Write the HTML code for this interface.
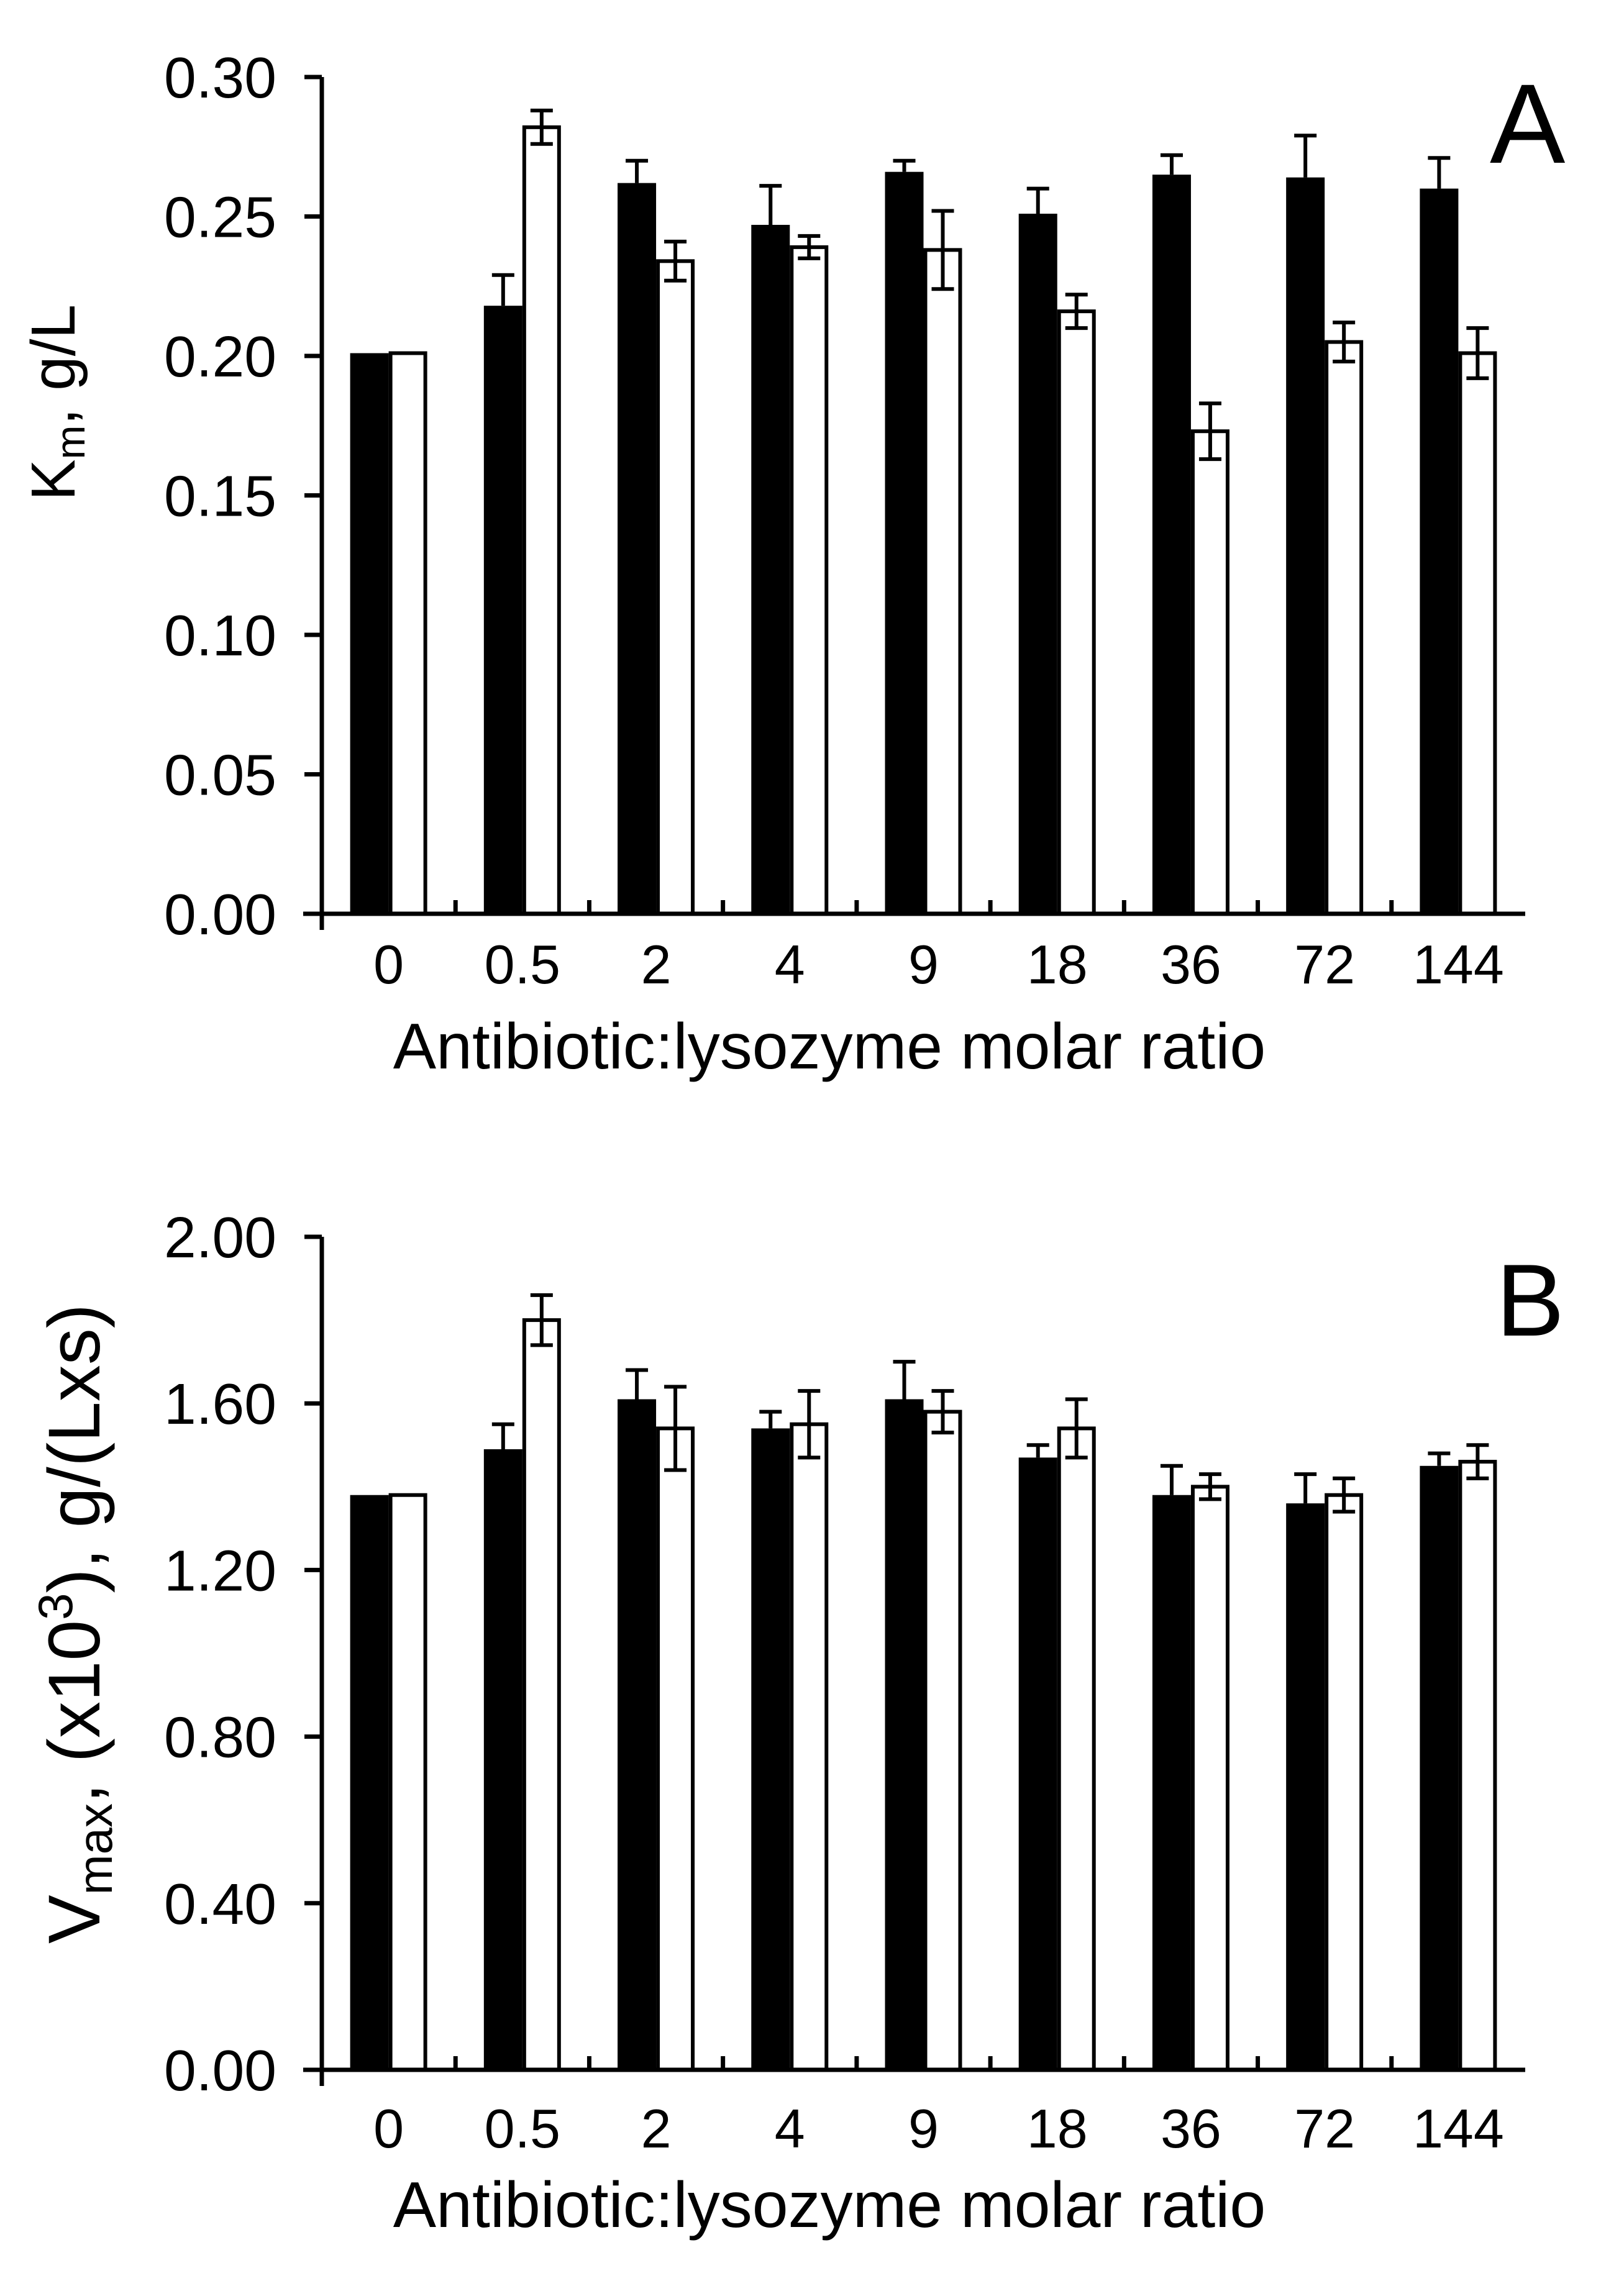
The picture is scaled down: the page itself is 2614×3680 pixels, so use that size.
<!DOCTYPE html>
<html><head><meta charset="utf-8">
<style>
html,body{margin:0;padding:0;background:#fff;}
svg{display:block;}
text{font-family:"Liberation Sans",Arial,sans-serif;fill:#000;}
</style></head>
<body>
<svg id="chart" width="2614" height="3680" viewBox="0 0 2614 3680" xmlns="http://www.w3.org/2000/svg">
<g id="pa"></g>
<g id="pb"></g>
<text x="2398" y="262" font-size="182">A</text>
<text x="2408" y="2150" font-size="165">B</text>
<text transform="translate(120,648) rotate(-90)" text-anchor="middle" font-size="100">K<tspan font-size="66" dy="16">m</tspan><tspan dy="-16">, g/L</tspan></text>
<text transform="translate(160,2614) rotate(-90)" text-anchor="middle" font-size="118">V<tspan font-size="78" dy="20">max</tspan><tspan dy="-20">, (x10</tspan><tspan font-size="78" dy="-44">3</tspan><tspan dy="44">), g/(Lxs)</tspan></text>
<text x="1335" y="1720" text-anchor="middle" font-size="104">Antibiotic:lysozyme molar ratio</text>
<text x="1335" y="3585" text-anchor="middle" font-size="104">Antibiotic:lysozyme molar ratio</text>
</svg>
<script>
const categories = ["0","0.5","2","4","9","18","36","72","144"];
const kmBlack = [0.201,0.218,0.262,0.247,0.266,0.251,0.265,0.264,0.260];
const kmBlackErr = [0,0.011,0.008,0.014,0.004,0.009,0.007,0.015,0.011];
const kmWhite = [0.201,0.282,0.234,0.239,0.238,0.216,0.173,0.205,0.201];
const kmWhiteErr = [0,0.006,0.007,0.004,0.014,0.006,0.010,0.007,0.009];
const kmTicks = ["0.00","0.05","0.10","0.15","0.20","0.25","0.30"];
const vBlack = [1.38,1.49,1.61,1.54,1.61,1.47,1.38,1.36,1.45];
const vBlackErr = [0,0.06,0.07,0.04,0.09,0.03,0.07,0.07,0.03];
const vWhite = [1.38,1.80,1.54,1.55,1.58,1.54,1.40,1.38,1.46];
const vWhiteErr = [0,0.06,0.10,0.08,0.05,0.07,0.03,0.04,0.04];
const vTicks = ["0.00","0.40","0.80","1.20","1.60","2.00"];

const NS="http://www.w3.org/2000/svg";
function mk(parent,tag,attrs){const e=document.createElementNS(NS,tag);for(const k in attrs)e.setAttribute(k,attrs[k]);parent.appendChild(e);return e;}

function panel(g,cfg){
  const x0=518, x1=2455, y0=cfg.y0, y1=cfg.y1, max=cfg.max;
  const n=categories.length, gw=(x1-x0)/n, bw=62;
  const ys=v=>y0-(v/max)*(y0-y1);
  const xc=i=>x0+gw*(i+0.5);
  categories.forEach((c,i)=>{
    const b=mk(g,'rect',{x:xc(i)-bw,y:ys(cfg.black[i]),width:bw,height:y0-ys(cfg.black[i]),fill:'#000'});
    
    
    const w=mk(g,'rect',{x:xc(i)+3,y:ys(cfg.white[i]),width:bw-6,height:y0-ys(cfg.white[i]),fill:'#fff',stroke:'#000','stroke-width':6});
    
    
    if(cfg.bErr[i]>0){
      const cx=xc(i)-bw/2, t=ys(cfg.black[i]+cfg.bErr[i]);
      const e=mk(g,'path',{d:`M${cx},${ys(cfg.black[i])}V${t}M${cx-18},${t}H${cx+18}`,stroke:'#000','stroke-width':6,fill:'none'});
      
      
    }
    if(cfg.wErr[i]>0){
      const cx=xc(i)+bw/2, t=ys(cfg.white[i]+cfg.wErr[i]), bt=ys(cfg.white[i]-cfg.wErr[i]);
      const e=mk(g,'path',{d:`M${cx},${bt}V${t}M${cx-18},${t}H${cx+18}M${cx-18},${bt}H${cx+18}`,stroke:'#000','stroke-width':6,fill:'none'});
      
      
    }
    const l=mk(g,'text',{x:xc(i),y:y0+cfg.lab,'text-anchor':'middle','font-size':88});
    l.textContent=c;
    
    
    if(i>0){
      const tk=mk(g,'line',{x1:x0+gw*i,x2:x0+gw*i,y1:y0,y2:y0-22,stroke:'#000','stroke-width':7});
      
      
    }
  });
  const ax=mk(g,'path',{d:`M${x0},${y1}V${y0+26}M${x0-30},${y0}H${x1}`,stroke:'#000','stroke-width':7,fill:'none'});
  
  
  cfg.ticks.forEach(t=>{
    const y=ys(parseFloat(t));
    const tk=mk(g,'line',{x1:x0-28,x2:x0,y1:y,y2:y,stroke:'#000','stroke-width':7});
    
    
    const l=mk(g,'text',{x:445,y:y+33,'text-anchor':'end','font-size':93});
    l.textContent=t;
    
    
  });
}
panel(document.getElementById('pa'),{y0:1471,y1:124,max:0.30,lab:112,black:kmBlack,white:kmWhite,bErr:kmBlackErr,wErr:kmWhiteErr,ticks:kmTicks});
panel(document.getElementById('pb'),{y0:3332,y1:1991,max:2.00,lab:125,black:vBlack,white:vWhite,bErr:vBlackErr,wErr:vWhiteErr,ticks:vTicks});
</script>
</body></html>
